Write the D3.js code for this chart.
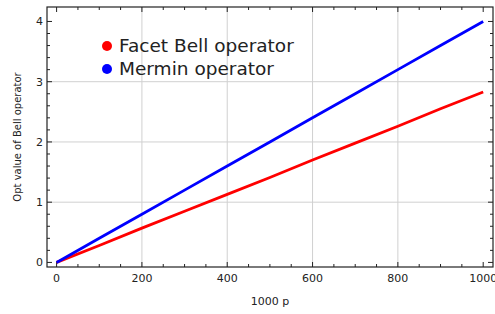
<!DOCTYPE html>
<html lang="en">
  <head>
    <meta charset="utf-8" />
    <title>Opt value of Bell operator</title>
    <script src="https://d3js.org/d3.v7.js"></script>
    <style>
      body { margin: 0; background: #fff; }
      text { font-family: "DejaVu Sans", sans-serif; fill: #222; }
    </style>
  </head>
  <body>
    <script>

    // data
    var pValues = [0, 100, 200, 300, 400, 500, 600, 700, 800, 900, 1000];
    var facetValues = [0, 0.28, 0.57, 0.85, 1.13, 1.41, 1.70, 1.98, 2.26, 2.55, 2.83];
    var merminValues = [0, 0.40, 0.80, 1.20, 1.60, 2.00, 2.40, 2.80, 3.20, 3.60, 4.00];
    var xTicks = [0, 200, 400, 600, 800, 1000];
    var yTicks = [0, 1, 2, 3, 4];
    var seriesNames = ["Facet Bell operator", "Mermin operator"];
    var seriesColors = ["#ff0000", "#0000ff"];

    var w = 495, h = 314;
    var margin = {top: 7, right: 2, bottom: 47, left: 47};
    var innerWidth = w - margin.left - margin.right;
    var innerHeight = h - margin.top - margin.bottom;

    var x = d3.scaleLinear().domain([-22.5, 1023]).range([0, innerWidth]);
    var y = d3.scaleLinear().domain([-0.076, 4.24]).range([innerHeight, 0]);

    var svg = d3.select("body")
      .append("svg")
        .attr("width", w)
        .attr("height", h)
      .append("g")
        .attr("transform", `translate(${margin.left},${margin.top})`);

    // grid
    svg.append("g").selectAll("line")
      .data(xTicks.filter(d => d > 0 && d < 1000))
      .join("line")
        .attr("x1", d => x(d)).attr("x2", d => x(d))
        .attr("y1", 0).attr("y2", innerHeight)
        .attr("stroke", "#d0d0d0").attr("stroke-width", 1);
    svg.append("g").selectAll("line")
      .data(yTicks.filter(d => d > 0 && d < 4))
      .join("line")
        .attr("x1", 0).attr("x2", innerWidth)
        .attr("y1", d => y(d)).attr("y2", d => y(d))
        .attr("stroke", "#d0d0d0").attr("stroke-width", 1);

    // inward ticks on all four sides
    var xMinor = d3.range(0, 1001, 50);
    var yMinor = d3.range(0, 4.01, 0.2);
    function tickLen(isMajor) { return isMajor ? 5 : 3; }

    svg.append("g").selectAll("line")
      .data(xMinor)
      .join("line")
        .attr("x1", d => x(d)).attr("x2", d => x(d))
        .attr("y1", innerHeight).attr("y2", d => innerHeight - tickLen(d % 200 === 0))
        .attr("stroke", "#222");
    svg.append("g").selectAll("line")
      .data(xMinor)
      .join("line")
        .attr("x1", d => x(d)).attr("x2", d => x(d))
        .attr("y1", 0).attr("y2", d => tickLen(d % 200 === 0))
        .attr("stroke", "#222");
    svg.append("g").selectAll("line")
      .data(yMinor)
      .join("line")
        .attr("y1", d => y(d)).attr("y2", d => y(d))
        .attr("x1", 0).attr("x2", d => tickLen(Math.abs(d - Math.round(d)) < 1e-6))
        .attr("stroke", "#222");
    svg.append("g").selectAll("line")
      .data(yMinor)
      .join("line")
        .attr("y1", d => y(d)).attr("y2", d => y(d))
        .attr("x1", innerWidth).attr("x2", d => innerWidth - tickLen(Math.abs(d - Math.round(d)) < 1e-6))
        .attr("stroke", "#222");

    // tick labels
    svg.append("g").selectAll("text")
      .data(xTicks)
      .join("text")
        .attr("x", d => x(d))
        .attr("y", innerHeight + 15)
        .attr("text-anchor", "middle")
        .attr("font-size", 11)
        .text(d => d);
    svg.append("g").selectAll("text")
      .data(yTicks)
      .join("text")
        .attr("x", -4)
        .attr("y", d => y(d))
        .attr("dy", "0.35em")
        .attr("text-anchor", "end")
        .attr("font-size", 11)
        .text(d => d);

    // lines
    var line = d3.line().x(d => x(d[0])).y(d => y(d[1]));
    [facetValues, merminValues].forEach(function(vals, i) {
      svg.append("path")
        .datum(pValues.map((p, j) => [p, vals[j]]))
        .attr("d", line)
        .attr("fill", "none")
        .attr("stroke", seriesColors[i])
        .attr("stroke-width", 2.8);
    });

    // frame
    svg.append("rect")
      .attr("width", innerWidth).attr("height", innerHeight)
      .attr("fill", "none").attr("stroke", "#222").attr("stroke-width", 1.2);

    // axis labels
    svg.append("text")
      .attr("x", innerWidth / 2)
      .attr("y", innerHeight + 38)
      .attr("text-anchor", "middle")
      .attr("font-size", 11)
      .text("1000 p");
    svg.append("text")
      .attr("transform", `translate(${-26},${innerHeight / 2}) rotate(-90)`)
      .attr("text-anchor", "middle")
      .attr("font-size", 10)
      .text("Opt value of Bell operator");

    // legend
    var legend = svg.append("g").selectAll("g")
      .data(seriesNames)
      .join("g")
        .attr("transform", (d, i) => `translate(60,${39 + i * 23})`);
    legend.append("circle")
      .attr("r", 5)
      .attr("fill", (d, i) => seriesColors[i]);
    legend.append("text")
      .attr("x", 12)
      .attr("dy", "0.35em")
      .attr("font-size", 18.5)
      .text(d => d);

    </script>
  </body>
</html>
